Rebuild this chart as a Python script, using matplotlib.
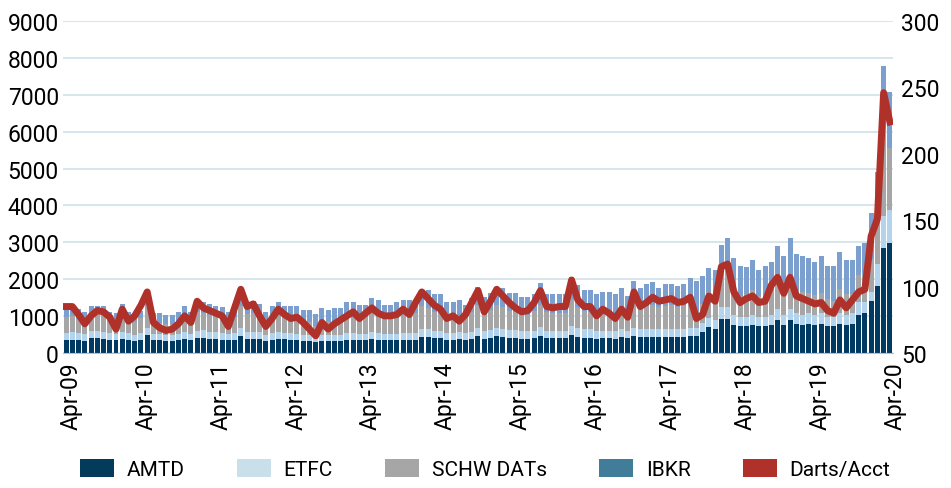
import matplotlib
matplotlib.use("Agg")
import matplotlib.pyplot as plt
import matplotlib.transforms as mtransforms
from matplotlib.patches import Patch
import numpy as np
import pandas as pd

plt.rcParams['font.family'] = ['Roboto', 'DejaVu Sans']

# monthly, Apr-09 .. Apr-20
months = pd.date_range('2009-04-01', '2020-04-01', freq='MS')

amtd = [350, 360, 340, 330, 400, 410, 390, 350, 340, 380, 350, 330, 360, 480, 350, 340, 330, 320, 350, 380,
        350, 400, 420, 390, 380, 360, 340, 350, 470, 380, 390, 380, 320, 360, 380, 370, 360, 340, 330, 320,
        300, 330, 320, 330, 330, 350, 350, 340, 340, 370, 360, 340, 340, 340, 360, 360, 360, 440, 430, 400,
        400, 360, 360, 370, 350, 380, 460, 390, 410, 450, 440, 410, 410, 390, 390, 400, 470, 400, 400, 400,
        400, 500, 440, 420, 420, 390, 400, 400, 390, 430, 400, 460, 430, 430, 440, 430, 430, 430, 430, 430,
        450, 450, 570, 700, 650, 920, 920, 760, 720, 720, 760, 720, 720, 760, 890, 760, 890, 800, 760, 800,
        760, 800, 720, 720, 800, 760, 800, 1030, 1080, 1400, 1820, 2840, 2980]
etfc = [200, 200, 190, 180, 200, 200, 190, 180, 170, 190, 180, 170, 180, 210, 170, 170, 160, 160, 170, 180,
        170, 200, 200, 190, 190, 180, 170, 180, 210, 190, 190, 180, 170, 180, 190, 180, 180, 180, 170, 170,
        160, 170, 170, 170, 170, 180, 180, 180, 180, 190, 190, 180, 180, 180, 190, 190, 190, 210, 210, 200,
        200, 180, 180, 190, 180, 200, 230, 200, 210, 220, 220, 210, 210, 200, 200, 210, 230, 210, 210, 210,
        210, 240, 230, 220, 220, 210, 210, 210, 200, 220, 200, 230, 220, 220, 220, 220, 220, 220, 220, 230,
        230, 220, 240, 260, 250, 330, 330, 260, 260, 260, 270, 260, 260, 270, 300, 280, 310, 280, 280, 280,
        270, 280, 260, 260, 290, 270, 280, 350, 300, 250, 590, 880, 900]
schw_dats = [430, 450, 400, 330, 420, 450, 450, 400, 330, 470, 370, 330, 420, 580, 360, 300, 290, 300, 340, 420,
             370, 520, 470, 450, 440, 420, 340, 450, 600, 480, 500, 430, 330, 400, 470, 430, 400, 410, 370, 340,
             280, 380, 340, 380, 400, 430, 460, 410, 450, 500, 450, 430, 430, 440, 470, 440, 530, 620, 570, 520,
             480, 400, 430, 380, 440, 530, 620, 460, 540, 620, 580, 520, 480, 440, 450, 520, 610, 490, 470, 480,
             480, 720, 580, 500, 500, 430, 480, 450, 410, 480, 440, 670, 560, 620, 650, 600, 630, 640, 600, 620,
             670, 450, 520, 700, 650, 1000, 1050, 720, 560, 620, 680, 560, 600, 720, 850, 680, 900, 640, 620, 560,
             540, 560, 480, 440, 640, 560, 520, 730, 800, 900, 1200, 2400, 1670]
ibkr = [270, 240, 260, 270, 260, 220, 250, 180, 240, 290, 210, 140, 190, 230, 200, 270, 250, 250, 250, 300,
        220, 300, 280, 300, 270, 280, 260, 350, 270, 320, 340, 340, 290, 340, 330, 300, 340, 350, 300, 340,
        310, 350, 340, 350, 330, 420, 390, 380, 340, 440, 440, 360, 360, 420, 420, 450, 360, 440, 500, 470,
        510, 440, 410, 500, 340, 390, 490, 480, 480, 510, 520, 500, 540, 500, 490, 460, 580, 490, 510, 500,
        500, 590, 600, 570, 570, 560, 560, 590, 600, 630, 510, 590, 550, 600, 610, 510, 590, 580, 570, 590,
        680, 820, 750, 640, 690, 680, 810, 830, 830, 730, 800, 700, 790, 710, 860, 910, 1010, 960, 970, 930,
        890, 990, 890, 930, 1000, 920, 910, 790, 810, 1240, 1300, 1670, 1530]
darts_acct = [85, 85, 79, 72, 78, 82, 81, 77, 68, 83, 74, 78, 86, 96, 73, 69, 67, 68, 72, 78,
              73, 89, 84, 82, 80, 78, 70, 84, 98, 85, 87, 78, 70, 76, 83, 79, 76, 77, 73, 68,
              63, 73, 68, 72, 75, 78, 81, 76, 80, 84, 80, 78, 78, 79, 83, 79, 88, 96, 91, 86,
              83, 76, 78, 74, 79, 88, 97, 81, 89, 98, 93, 88, 84, 81, 82, 88, 97, 85, 84, 85,
              85, 105, 90, 85, 85, 78, 83, 80, 76, 83, 77, 96, 85, 88, 92, 89, 90, 91, 88, 89,
              92, 76, 79, 93, 89, 115, 117, 96, 88, 91, 93, 88, 89, 101, 107, 95, 107, 93, 91, 89,
              87, 88, 82, 80, 90, 84, 90, 96, 98, 138, 151, 246, 224]

bar_colors = ['#003a63', '#b3d4ec', '#a6a6a6', '#7b9fcf']
legend_colors = ['#033b5b', '#c9dfe9', '#a6a6a6', '#417c99']
labels = ['AMTD', 'ETFC', 'SCHW DATs', 'IBKR']
red = '#b0302a'

x = np.arange(len(months))

fig = plt.figure(figsize=(9.51, 4.89), dpi=100)
ax = fig.add_axes([0.0662, 0.276, 0.8728, 0.679])

bottom = np.zeros(len(x))
for vals, c in zip([amtd, etfc, schw_dats, ibkr], bar_colors):
    ax.bar(x, vals, width=0.8, bottom=bottom, color=c, linewidth=0, zorder=2)
    bottom += np.array(vals)

ax.set_ylim(0, 9000)
ax.set_yticks(range(0, 9001, 1000))
ax.set_xlim(-0.5, len(x) - 0.5)
ax.grid(axis='y', color='#d3e3ec', linewidth=1.3, zorder=0)
ax.set_axisbelow(True)
for s in ['top', 'right', 'left']:
    ax.spines[s].set_visible(False)
ax.spines['bottom'].set_color('#bfbfbf')
ax.tick_params(axis='y', length=0, labelsize=16.5, pad=3)
ax.tick_params(axis='x', length=0, labelsize=16.5, pad=6)

ticks = x[::12]
ax.set_xticks(ticks)
ax.set_xticklabels([d.strftime('%b-%y') for d in months[::12]], rotation=90)
offset = mtransforms.ScaledTranslation(0.05, 0, fig.dpi_scale_trans)
for lab in ax.get_xticklabels():
    lab.set_transform(lab.get_transform() + offset)

ax2 = ax.twinx()
ax2.plot(x, darts_acct, color=red, linewidth=5, solid_joinstyle='round', zorder=3)
ax2.set_ylim(50, 300)
ax2.set_yticks(range(50, 301, 50))
ax2.tick_params(axis='y', length=0, labelsize=16.5, pad=6)
for s in ['top', 'right', 'left', 'bottom']:
    ax2.spines[s].set_visible(False)

handles = [Patch(facecolor=c, edgecolor='none') for c in legend_colors]
handles.append(Patch(facecolor=red, edgecolor='none'))
fig.legend(handles, labels + ['Darts/Acct'], loc='lower center', ncol=5, frameon=False,
           fontsize=15, bbox_to_anchor=(0.51, -0.02), handlelength=1.65, handleheight=1.0,
           columnspacing=2.5, handletextpad=0.6)

fig.savefig('out.png', dpi=100)
